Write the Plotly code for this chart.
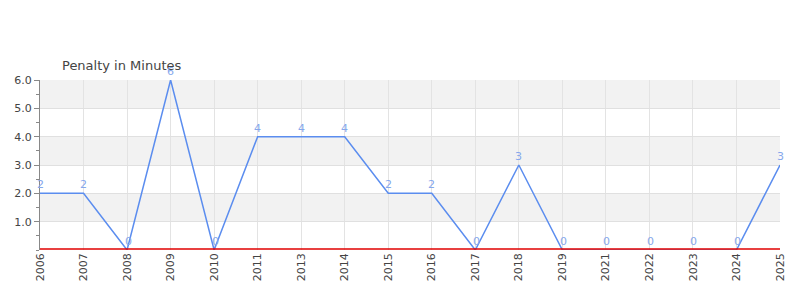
import plotly.graph_objects as go

years = ["2006", "2007", "2008", "2009", "2010", "2011", "2013", "2014", "2015",
         "2016", "2017", "2018", "2019", "2021", "2022", "2023", "2024", "2025"]
pim = [2, 2, 0, 6, 0, 4, 4, 4, 2, 2, 0, 3, 0, 0, 0, 0, 0, 3]
y_ticks = [1, 2, 3, 4, 5, 6]
y_tick_text = ["1.0", "2.0", "3.0", "4.0", "5.0", "6.0"]
bands = [(1, 2), (3, 4), (5, 6)]

font = "DejaVu Sans"
fig = go.Figure()
fig.add_trace(go.Scatter(
    x=years, y=pim, mode="lines",
    line=dict(color="#5b8def", width=1.5),
    cliponaxis=False, showlegend=False, hoverinfo="x+y",
))

annotations = [dict(text="Penalty in Minutes", xref="paper", yref="paper",
                    x=20/740, y=1, xanchor="left", yanchor="bottom",
                    yshift=5, showarrow=False,
                    font=dict(family=font, size=13, color="#444444"))]
for i, v in enumerate(pim):
    annotations.append(dict(text=str(v), x=i, y=v, xref="x", yref="y",
                            xanchor="center", yanchor="bottom", yshift=0,
                            xshift=1 if v == 0 else 0,
                            showarrow=False,
                            font=dict(family=font, size=11, color="#86a8ec")))

shapes = []
for lo, hi in bands:
    shapes.append(dict(type="rect", xref="paper", x0=0, x1=1, yref="y", y0=lo, y1=hi,
                       fillcolor="#f2f2f2", line=dict(width=0), layer="below"))
shapes.append(dict(type="line", xref="paper", x0=0, x1=1, yref="y",
                   ysizemode="pixel", yanchor=0, y0=-0.5, y1=-0.5,
                   line=dict(color="#555555", width=1), layer="above"))
shapes.append(dict(type="line", xref="paper", x0=0, x1=1, yref="y",
                   ysizemode="pixel", yanchor=0, y0=1, y1=1,
                   line=dict(color="#e00000", width=1.5), layer="above"))

fig.update_layout(
    width=800, height=300,
    margin=dict(l=40, r=20, t=80, b=50),
    paper_bgcolor="white", plot_bgcolor="white",
    font=dict(family=font, size=11, color="#444444"),
    shapes=shapes,
    annotations=annotations,
    xaxis=dict(type="category", range=[0, len(years) - 1], tickangle=-90,
               showgrid=True, gridcolor="#e3e3e3", gridwidth=1,
               showline=False, zeroline=False, ticks="",
               tickfont=dict(family=font, size=11, color="#444444")),
    yaxis=dict(range=[0, 6], tickvals=y_ticks, ticktext=y_tick_text,
               showgrid=True, gridcolor="#e0e0e0", zeroline=False,
               showline=True, linecolor="#888888", linewidth=1,
               ticks="outside", ticklen=5, tickcolor="#888888",
               minor=dict(dtick=0.5, tick0=0, ticks="outside", ticklen=3,
                          tickcolor="#888888", showgrid=False),
               tickfont=dict(family=font, size=11, color="#444444")),
)
fig.write_html("out.html")
